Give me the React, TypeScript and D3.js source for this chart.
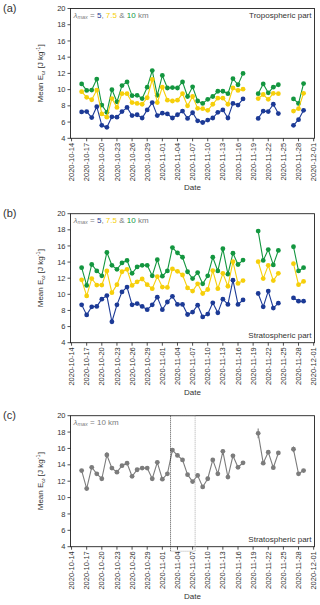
import React from "react";
import * as d3 from "d3";

// ---------- DATA ----------
const dates = [
  "2020-10-16","2020-10-17","2020-10-18","2020-10-19","2020-10-20","2020-10-21","2020-10-22","2020-10-23",
  "2020-10-24","2020-10-25","2020-10-26","2020-10-27","2020-10-28","2020-10-29","2020-10-30","2020-10-31",
  "2020-11-01","2020-11-02","2020-11-03","2020-11-04","2020-11-05","2020-11-06","2020-11-07","2020-11-08",
  "2020-11-09","2020-11-10","2020-11-11","2020-11-12","2020-11-13","2020-11-14","2020-11-15","2020-11-16",
  "2020-11-17","2020-11-20","2020-11-21","2020-11-22","2020-11-23","2020-11-24","2020-11-27","2020-11-28",
  "2020-11-29",
];

const tropo5 = [7.25,7.3,6.55,7.9,5.6,5.35,6.65,6.6,7.3,7.8,6.8,6.9,6.5,7.5,8.4,6.8,7.1,7.0,6.5,6.9,7.35,6.45,7.15,6.15,5.95,6.25,6.5,7.2,7.5,6.5,8.3,8.1,8.85,6.45,7.35,7.3,8.2,7.05,5.6,6.3,7.45];
const tropo75 = [9.75,9.05,8.75,9.95,7.0,6.6,8.9,7.8,9.5,9.5,8.4,8.3,8.2,9.0,11.25,8.4,10.3,8.7,8.6,8.7,9.5,8.0,9.15,7.7,7.65,7.45,8.2,8.95,8.95,8.2,10.2,9.9,10.05,8.9,9.4,8.8,9.55,9.5,7.35,7.65,9.55];
const tropo10 = [10.7,9.9,9.95,11.3,8.1,7.2,10.0,8.5,10.5,10.95,9.25,9.3,8.9,10.3,12.35,9.3,11.75,10.2,10.25,10.2,10.95,9.15,10.35,8.6,8.3,8.8,9.15,9.8,9.8,9.5,11.35,10.6,12.0,9.5,10.7,9.6,10.3,10.6,8.85,8.3,10.75];

const strato5 = [8.7,7.45,8.45,8.5,9.4,9.85,6.6,8.7,10.3,10.9,8.7,8.85,8.5,8.1,8.7,9.65,8.1,9.05,9.75,8.75,8.75,7.5,7.8,8.65,7.2,7.55,8.95,7.7,9.4,8.75,11.75,8.75,9.3,10.1,8.45,10.4,8.3,8.9,9.55,9.15,9.15];
const strato75 = [11.8,9.8,11.95,11.15,11.15,12.9,10.2,11.2,12.8,13.1,11.1,11.55,11.9,11.2,10.7,12.2,10.9,10.85,13.15,12.85,12.4,10.8,10.4,11.3,10.1,10.6,12.95,10.7,12.6,11.0,14.05,11.35,11.7,14.05,11.95,13.6,11.7,12.6,13.8,11.2,11.6];
const strato10 = [13.3,11.1,13.7,12.9,12.3,15.2,13.6,13.1,13.9,14.2,12.6,13.4,13.6,13.6,12.3,14.3,12.25,12.9,15.8,15.15,14.6,12.8,11.95,12.7,11.3,12.3,14.6,12.9,15.65,12.5,15.1,13.7,14.25,17.85,14.2,15.55,13.65,15.45,15.9,12.9,13.3];
const strato10Err = [0.2,0.2,0.2,0.2,0.2,0.35,0.2,0.2,0.2,0.2,0.2,0.2,0.2,0.2,0.2,0.2,0.2,0.2,0.25,0.2,0.2,0.2,0.2,0.2,0.2,0.2,0.2,0.2,0.25,0.2,0.25,0.2,0.2,0.6,0.2,0.25,0.2,0.2,0.35,0.2,0.2];

const yTicks = [4, 6, 8, 10, 12, 14, 16, 18, 20];
const xTickStart = "2020-10-14";
const xTickStepDays = 3;
const xTickCount = 17;
const highlightWindow = ["2020-11-02T15:00", "2020-11-07T12:00"];

const COLORS = { b: "#1c3a96", y: "#f6cf0a", g: "#13963f", gray: "#7c7c7c", text: "#333" };
const FONT = "'Liberation Sans', Arial, sans-serif";

// ---------- helpers ----------
const parse = d3.utcParse("%Y-%m-%d");
const parseT = d3.utcParse("%Y-%m-%dT%H:%M");
const dateObjs = dates.map((d) => parse(d) as Date);
const fmt = d3.utcFormat("%Y-%m-%d");

const x = d3
  .scaleUtc()
  .domain([d3.utcHour.offset(dateObjs[0], -2.2 * 24), d3.utcHour.offset(dateObjs[dateObjs.length - 1], 2.2 * 24)])
  .range([70.5, 314.5]);

const xTicks = d3.range(xTickCount).map((i) => d3.utcDay.offset(parse(xTickStart) as Date, i * xTickStepDays));

function segments(values: number[]) {
  const segs: { d: Date; v: number; i: number }[][] = [];
  let cur: { d: Date; v: number; i: number }[] = [];
  values.forEach((v, i) => {
    if (i > 0 && (dateObjs[i].getTime() - dateObjs[i - 1].getTime()) / 86400000 > 1.5) {
      segs.push(cur);
      cur = [];
    }
    cur.push({ d: dateObjs[i], v, i });
  });
  segs.push(cur);
  return segs;
}

type Series = { values: number[]; color: string; err?: number[] };

function Panel({
  top, bottom, label, series, note, noteTop, legend, highlight,
}: {
  top: number; bottom: number; label: string; series: Series[]; note: string; noteTop: boolean;
  legend: "all" | "ten"; highlight?: boolean;
}) {
  const y = d3.scaleLinear().domain([4, 20]).range([bottom, top]);
  const [x0, x1] = x.range();
  const line = d3
    .line<{ d: Date; v: number }>()
    .x((p) => x(p.d))
    .y((p) => y(p.v));
  const clipId = "clip" + label.replace(/\W/g, "");
  return (
    <g>
      <defs>
        <clipPath id={clipId}>
          <rect x={x0} y={top} width={x1 - x0} height={bottom - top} />
        </clipPath>
      </defs>
      <text x={3} y={top + 3} fontSize={11} fill={COLORS.text} fontFamily={FONT}>{label}</text>
      {/* series */}
      <g clipPath={`url(#${clipId})`}>
        {series.map((s, si) => (
          <g key={si}>
            {segments(s.values).map((seg, k) => (
              <path key={k} d={line(seg) || ""} fill="none" stroke={s.color} strokeWidth={1.1} />
            ))}
            {s.err &&
              s.values.map((v, i) => (
                <line key={"e" + i} x1={x(dateObjs[i])} x2={x(dateObjs[i])} y1={y(v - s.err![i])} y2={y(v + s.err![i])}
                  stroke={s.color} strokeWidth={1.1} />
              ))}
            {s.values.map((v, i) => (
              <circle key={i} cx={x(dateObjs[i])} cy={y(v)} r={2.4} fill={s.color} />
            ))}
          </g>
        ))}
      </g>
      {/* frame */}
      <rect x={x0} y={top} width={x1 - x0} height={bottom - top} fill="none" stroke="#222" strokeWidth={0.9} />
      {/* y ticks */}
      {yTicks.map((t) => (
        <g key={t}>
          <line x1={x0 - 3} x2={x0} y1={y(t)} y2={y(t)} stroke="#222" strokeWidth={0.8} />
          <text x={x0 - 5} y={y(t)} dy="0.35em" textAnchor="end" fontSize={7.5} fill={COLORS.text} fontFamily={FONT}>{t}</text>
        </g>
      ))}
      {/* x ticks */}
      {xTicks.map((t, i) => (
        <g key={i}>
          <line x1={x(t)} x2={x(t)} y1={bottom} y2={bottom + 3} stroke="#222" strokeWidth={0.8} />
          <text transform={`translate(${x(t)},${bottom + 4.5}) rotate(-90)`} dy="0.35em" textAnchor="end"
            fontSize={7.5} fill={COLORS.text} fontFamily={FONT}>{fmt(t)}</text>
        </g>
      ))}
      <text x={(x0 + x1) / 2} y={bottom + 52} textAnchor="middle" fontSize={8} fill={COLORS.text} fontFamily={FONT}>Date</text>
      {/* y label */}
      <text transform={`translate(43,${(top + bottom) / 2}) rotate(-90)`} textAnchor="middle" fontSize={8}
        fill={COLORS.text} fontFamily={FONT}>
        Mean E<tspan fontSize={5.5} dy={1.5}>ω</tspan><tspan dy={-1.5}> [J kg</tspan><tspan fontSize={5.5} dy={-3}>-1</tspan><tspan dy={3}>]</tspan>
      </text>
      {/* legend */}
      <text x={x0 + 3} y={top + 9} fontSize={8} fill={COLORS.gray} fontFamily={FONT}>
        <tspan fontStyle="italic">λ</tspan><tspan fontSize={5.5} dy={1.5} fontStyle="italic">max</tspan>
        <tspan dy={-1.5}>{" = "}</tspan>
        {legend === "all" ? (
          <>
            <tspan fill={COLORS.b}>5</tspan><tspan>, </tspan>
            <tspan fill={COLORS.y}>7.5</tspan><tspan>{" & "}</tspan>
            <tspan fill={COLORS.g}>10</tspan><tspan> km</tspan>
          </>
        ) : (
          <tspan>{" 10 km"}</tspan>
        )}
      </text>
      <text x={x1 - 3} y={noteTop ? top + 9 : bottom - 5} textAnchor="end" fontSize={8} fill={COLORS.text} fontFamily={FONT}>{note}</text>
      {highlight && (
        <g>
          {(() => {
            const hx0 = x(parseT(highlightWindow[0]) as Date);
            const hx1 = x(parseT(highlightWindow[1]) as Date);
            const hy0 = y(20);
            const hy1 = y(3.45);
            return (
              <>
                <line x1={hx0} x2={hx1} y1={hy0} y2={hy0} stroke="#999" strokeWidth={0.8} strokeDasharray="1,1" />
                <line x1={hx0} x2={hx1} y1={hy1} y2={hy1} stroke="#999" strokeWidth={0.8} strokeDasharray="1,1" />
                <line x1={hx1} x2={hx1} y1={hy0} y2={hy1} stroke="#999" strokeWidth={0.8} strokeDasharray="1,1" />
                <line x1={hx0} x2={hx0} y1={hy0} y2={hy1} stroke="#222" strokeWidth={0.8} strokeDasharray="1,1" />
              </>
            );
          })()}
        </g>
      )}
    </g>
  );
}

export default function App() {
  return (
    <svg width={320} height={605} style={{ position: "absolute", left: 0, top: 0, background: "#fff" }}>
      <Panel top={8.5} bottom={138.3} label="(a)" note="Tropospheric part" noteTop legend="all"
        series={[{ values: tropo10, color: COLORS.g }, { values: tropo75, color: COLORS.y }, { values: tropo5, color: COLORS.b }]} />
      <Panel top={213.7} bottom={342.7} label="(b)" note="Stratospheric part" noteTop={false} legend="all"
        series={[{ values: strato10, color: COLORS.g }, { values: strato75, color: COLORS.y }, { values: strato5, color: COLORS.b }]} />
      <Panel top={415.7} bottom={546.7} label="(c)" note="Stratospheric part" noteTop={false} legend="ten" highlight
        series={[{ values: strato10, color: COLORS.gray, err: strato10Err }]} />
    </svg>
  );
}
